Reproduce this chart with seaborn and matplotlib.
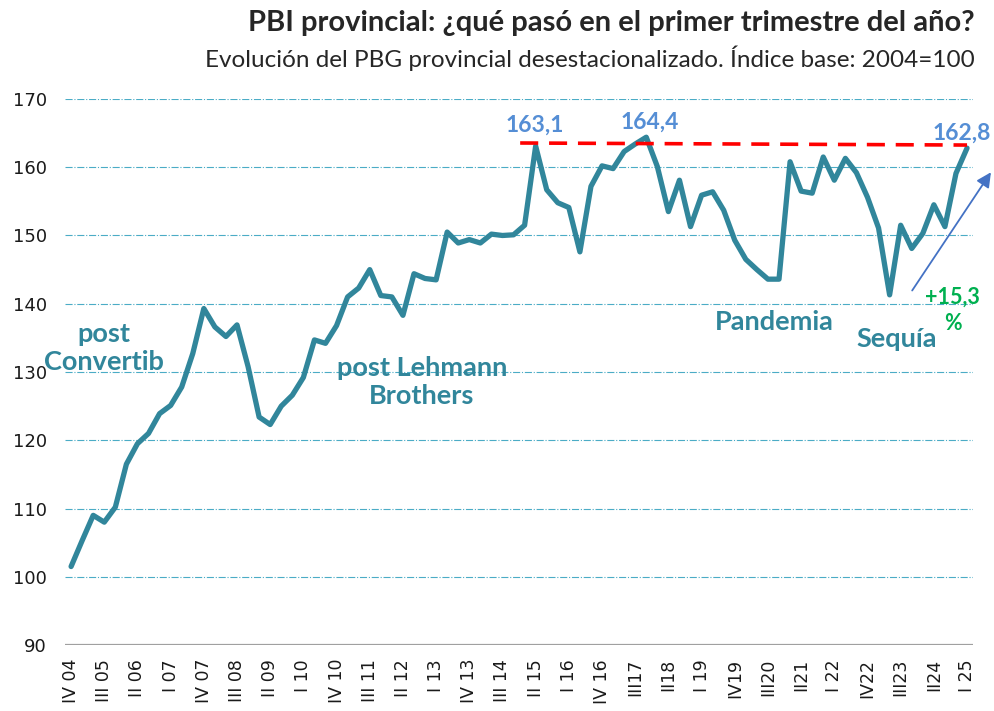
import numpy as np
import pandas as pd
import matplotlib
matplotlib.use('Agg')
import matplotlib.pyplot as plt
import seaborn as sns

# PBG provincial desestacionalizado, 2004=100 (IV 04 ... I 25)
pbg = [101.5, 105.3, 109.0, 108.0, 110.2, 116.5, 119.5, 121.0, 123.9, 125.1,
       127.8, 132.7, 139.3, 136.6, 135.2, 136.9, 130.8, 123.4, 122.3, 125.0,
       126.6, 129.2, 134.7, 134.2, 136.8, 141.0, 142.3, 145.0, 141.2, 141.0,
       138.3, 144.4, 143.7, 143.5, 150.5, 148.9, 149.4, 148.9, 150.2, 150.0,
       150.1, 151.5, 163.1, 156.7, 154.8, 154.1, 147.6, 157.2, 160.2, 159.8,
       162.3, 163.4, 164.4, 160.1, 153.5, 158.1, 151.3, 155.9, 156.4, 153.7,
       149.3, 146.5, 145.0, 143.6, 143.6, 160.8, 156.5, 156.2, 161.5, 158.1,
       161.3, 159.2, 155.6, 151.1, 141.3, 151.5, 148.1, 150.3, 154.5, 151.3,
       159.1, 162.8]

tick_labels = ['IV 04', 'III 05', 'II 06', 'I 07', 'IV 07', 'III 08', 'II 09',
               'I 10', 'IV 10', 'III 11', 'II 12', 'I 13', 'IV 13', 'III 14',
               'II 15', 'I 16', 'IV 16', 'III17', 'II18', 'I 19', 'IV19',
               'III20', 'II21', 'I 22', 'IV22', 'III23', 'II24', 'I 25']

peak_labels = ['163,1', '164,4', '162,8']
peak_idx = [42, 52, 81]

df = pd.DataFrame({'t': np.arange(len(pbg)), 'pbg': pbg})

sns.set_theme(style='white')
plt.rcParams['font.family'] = ['DejaVu Sans']

fig = plt.figure(figsize=(9.94, 7.11), dpi=100)
ax = fig.add_axes([0.0654, 0.0928, 0.9136, 0.768])

teal = '#31869B'
sns.lineplot(data=df, x='t', y='pbg', ax=ax, color=teal, linewidth=3.8,
             solid_joinstyle='round', solid_capstyle='round')

ax.set_xlim(-0.55, 81.55)
ax.set_ylim(90, 170)
ax.set_yticks(range(90, 171, 10))
ax.set_xticks(np.arange(0, len(pbg), 3))
ax.set_xticklabels(tick_labels, rotation=90)
ax.tick_params(axis='y', labelsize=13, length=0, pad=13, colors='#1a1a1a')
ax.tick_params(axis='x', labelsize=12.5, length=0, pad=10, colors='#1a1a1a')
ax.set_xlabel('')
ax.set_ylabel('')

for v in range(100, 171, 10):
    ax.axhline(v, color='#4BACC6', lw=0.8, ls='-.', zorder=0)
ax.axhline(90, color='#A0A0A0', lw=1.6, zorder=1)
for s in ax.spines.values():
    s.set_visible(False)

# red dashed reference line over the peaks
ax.plot([40.6, 81], [pbg[42] + 0.45, pbg[81] + 0.45], color='red', lw=2.6,
        ls=(0, (5, 3)), zorder=3)

ann_font = ['Lato', 'DejaVu Sans']
# peak value labels (small offsets so they sit like in the original)
lbl_dx = [-0.1, 0.3, -0.5]
lbl_dy = [3.1, 2.2, 2.2]
for lbl, i, dx, dy in zip(peak_labels, peak_idx, lbl_dx, lbl_dy):
    ax.text(i + dx, pbg[i] + dy, lbl, color='#558ED5', fontsize=16.5,
            fontweight='bold', ha='center', va='center', family=ann_font,
            zorder=4, clip_on=False)

ax.text(3.0, 133.5, 'post\nConvertib', color=teal, fontsize=19.5, fontweight='bold',
        ha='center', va='center', family=ann_font, linespacing=1.2)
ax.text(31.7, 128.5, 'post Lehmann\nBrothers', color=teal, fontsize=19.5,
        fontweight='bold', ha='center', va='center', family=ann_font, linespacing=1.2)
ax.text(63.6, 137.3, 'Pandemia', color=teal, fontsize=19.5, fontweight='bold',
        ha='center', va='center', family=ann_font)
ax.text(74.6, 134.8, 'Sequía', color=teal, fontsize=19.5, fontweight='bold',
        ha='center', va='center', family=ann_font)
ax.text(79.7, 139.0, '+15,3\n%', color='#00B050', fontsize=15.5, fontweight='bold',
        ha='center', va='center', family=ann_font, linespacing=1.3)

ax.annotate('', xy=(83.3, 159.6), xytext=(75.9, 141.6),
            arrowprops=dict(arrowstyle='-|>', color='#4472C4', lw=1.3,
                            mutation_scale=22), annotation_clip=False)

fig.text(0.981, 0.968, 'PBI provincial: ¿qué pasó en el primer trimestre del año?',
         ha='right', va='center', fontsize=21, fontweight='bold', family=ann_font)
fig.text(0.981, 0.918, 'Evolución del PBG provincial desestacionalizado. Índice base: 2004=100',
         ha='right', va='center', fontsize=17.5, family=ann_font)

fig.savefig('out.png', dpi=100)
